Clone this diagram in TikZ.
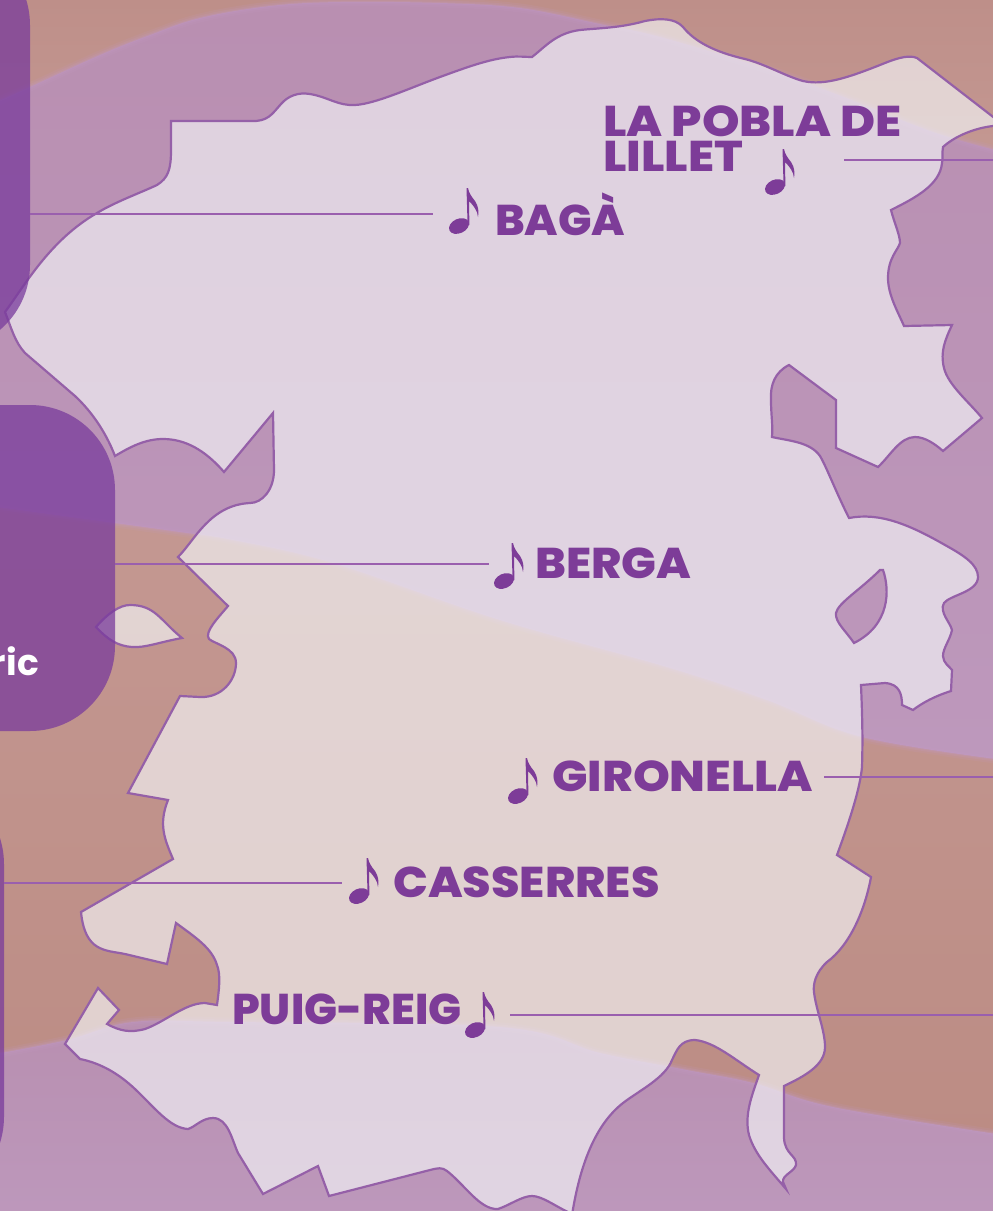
\documentclass[tikz,border=0pt]{standalone}
\usepackage{fontspec}
\newfontfamily\lab{Poppins ExtraBold}
\newfontfamily\pan{Poppins}
\definecolor{tanA}{HTML}{BE8F89}
\definecolor{tanB}{HTML}{C49892}
\definecolor{tanC}{HTML}{BC8C84}
\definecolor{purA}{HTML}{B98FB1}
\definecolor{purB}{HTML}{BA8FB3}
\definecolor{purC}{HTML}{BD98BC}
\definecolor{purD}{HTML}{B88FB0}
\definecolor{glow}{HTML}{C299C2}
\definecolor{panelc}{HTML}{793B9C}
\definecolor{ink}{HTML}{7D3C98}
\definecolor{edgec}{HTML}{9560A8}
\definecolor{leaderc}{HTML}{9A5FAE}
\definecolor{veil}{HTML}{F5F7F9}
\newcommand{\wide}[1]{\addfontfeature{FakeStretch=#1}}
\tikzset{
  lbl/.style={inner sep=0pt,anchor=base west,text=ink,font=\lab\fontsize{43}{35}\selectfont},
  leader/.style={draw=leaderc,line width=1.5pt},
  panelbox/.style={rectangle,rounded corners=85pt,fill=panelc,fill opacity=.75,inner sep=0pt},
  mapedge/.style={draw=edgec,line width=2.2pt,line join=miter},
  notepic/.pic={
    \fill[ink] (-8,38) ellipse [x radius=10.5,y radius=7.2,rotate=25];
    \fill[ink] (-0.5,0) -- (1,0) .. controls (2,5) and (4,8) .. (8,13) .. controls (11.5,18) and (12,24) .. (11,29)
      .. controls (10.5,23) and (7,18) .. (2,13) -- (2.4,37) -- (0.6,37) -- cycle;
  }
}
\def\topedge{plot[smooth,tension=.6] coordinates{(-10,105)(30,87)(100,55)(150,35)(200,18)(270,6)(340,2)(440,3)(520,8)(600,24)(660,37)(760,67)(833,93)(933,132)(1003,152)}}
\def\midedge{-- plot[smooth,tension=.6] coordinates{(1003,760)(862,737)(767,700)(667,667)(500,620)(333,563)(233,540)(180,532)(115,523)(-10,506)}}
\def\lowedge{plot[smooth,tension=.6] coordinates{(-10,1055)(67,1040)(133,1022)(230,1022)(500,1027)(600,1053)(687,1070)(753,1083)(833,1107)(1003,1135)}}
\def\mapoutline{
 (5,312) .. controls (25,285) and (50,240) .. (97,213) .. controls (115,202) and (140,193) .. (157,185)
 .. controls (168,178) and (171,170) .. (171,150) -- (171,121)
 -- (250,121) .. controls (268,122) and (272,114) .. (281,104) .. controls (288,96) and (298,92) .. (310,94)
 .. controls (328,97) and (338,106) .. (355,105) .. controls (375,104) and (410,88) .. (440,77)
 .. controls (470,66) and (490,59) .. (510,57) .. controls (518,56) and (525,57) .. (532,57)
 .. controls (545,47) and (556,33) .. (580,30) .. controls (600,28) and (620,28) .. (645,21)
 .. controls (660,18) and (675,18) .. (683,27) .. controls (695,42) and (715,52) .. (745,59)
 .. controls (765,64) and (785,76) .. (803,81) .. controls (825,86) and (850,77) .. (885,63)
 .. controls (900,57) and (910,55) .. (917,58)
 -- (1010,130) -- (993,126)
 .. controls (975,128) and (955,136) .. (943,147) .. controls (942,152) and (943,158) .. (942,163)
 .. controls (940,185) and (915,198) .. (891,210)
 .. controls (894,222) and (900,235) .. (900,243) .. controls (898,250) and (888,258) .. (888,278)
 .. controls (888,295) and (898,312) .. (904,326)
 -- (952,325)
 .. controls (945,340) and (940,352) .. (944,368) .. controls (948,385) and (970,403) .. (982,418)
 -- (943,451)
 .. controls (935,444) and (925,437) .. (915,437) .. controls (900,437) and (890,456) .. (878,467)
 -- (836,448) -- (836,400) -- (789,365)
 .. controls (775,372) and (770,385) .. (771,400) .. controls (771,415) and (773,425) .. (772,437)
 .. controls (790,441) and (810,442) .. (820,456) .. controls (827,468) and (835,490) .. (849,518)
 .. controls (880,512) and (910,525) .. (945,545) .. controls (965,556) and (978,565) .. (978,577)
 .. controls (978,592) and (950,595) .. (944,603) .. controls (939,612) and (950,622) .. (952,630)
 .. controls (950,640) and (943,648) .. (943,656) .. controls (943,663) and (950,667) .. (952,670)
 -- (951,691)
 .. controls (935,696) and (922,703) .. (913,710) -- (902,705)
 .. controls (902,695) and (900,684) .. (885,683) -- (861,685)
 .. controls (862,710) and (863,735) .. (862,767) .. controls (860,790) and (848,825) .. (837,855)
 -- (871,877)
 .. controls (865,910) and (850,945) .. (827,962) .. controls (815,973) and (813,985) .. (814,992)
 .. controls (816,1010) and (825,1030) .. (825,1047) .. controls (825,1065) and (805,1076) .. (784,1086)
 -- (784,1138) .. controls (785,1155) and (797,1155) .. (796,1165) .. controls (794,1172) and (782,1175) .. (783,1182)
 -- (786,1189)
 .. controls (770,1170) and (755,1155) .. (749,1135) .. controls (744,1115) and (752,1095) .. (759,1075)
 .. controls (735,1060) and (715,1042) .. (695,1040) .. controls (680,1040) and (677,1050) .. (672,1060)
 .. controls (665,1078) and (640,1090) .. (623,1103) .. controls (595,1125) and (580,1165) .. (572,1215)
 -- (568,1212)
 .. controls (555,1206) and (542,1196) .. (532,1196) .. controls (522,1196) and (510,1205) .. (498,1209)
 .. controls (480,1210) and (465,1185) .. (447,1171) .. controls (442,1167) and (438,1168) .. (430,1170)
 -- (329,1196) -- (318,1166) -- (263,1194) -- (238,1153)
 .. controls (232,1140) and (228,1118) .. (213,1118) .. controls (202,1118) and (195,1127) .. (188,1129)
 .. controls (170,1128) and (155,1108) .. (135,1089) .. controls (118,1073) and (100,1063) .. (80,1059)
 -- (65,1044) -- (98,988) -- (119,1010) -- (107,1024)
 .. controls (120,1031) and (130,1033) .. (145,1029) .. controls (165,1022) and (185,1003) .. (205,1003)
 -- (217,1005)
 .. controls (219,990) and (221,975) .. (217,965) .. controls (212,948) and (195,937) .. (176,923)
 -- (167,964) -- (125,954) .. controls (105,950) and (85,952) .. (81,912)
 -- (173,859)
 .. controls (165,840) and (158,825) .. (168,800)
 -- (128,793) -- (180,696) -- (200,697)
 .. controls (222,698) and (236,680) .. (236,663) .. controls (236,648) and (215,644) .. (209,639)
 .. controls (204,632) and (218,618) .. (228,606)
 -- (178,557)
 .. controls (195,540) and (210,505) .. (250,503) .. controls (262,503) and (274,490) .. (274,470)
 -- (273,413) -- (224,472)
 .. controls (205,450) and (185,439) .. (163,439) .. controls (145,439) and (130,447) .. (115,456)
 .. controls (105,430) and (90,410) .. (75,396) -- (25,353)
 .. controls (15,342) and (12,330) .. (5,312)
 -- cycle
 (883,570) .. controls (890,590) and (890,625) .. (854,643)
 .. controls (845,630) and (835,622) .. (836,613) .. controls (838,603) and (860,590) .. (880,570)
 -- cycle
}
\def\eyeoutline{
 (96,627) .. controls (108,613) and (120,605) .. (130,605) .. controls (155,605) and (160,620) .. (182,638)
 .. controls (160,642) and (145,648) .. (132,647) .. controls (118,646) and (108,640) .. (96,627) -- cycle
}
\begin{document}
\begin{tikzpicture}[x=1pt,y=-1pt]
\useasboundingbox (0,0) rectangle (993,1211);
\clip (0,0) rectangle (993,1211);
% background bands
\shade[top color=tanA,bottom color=tanB] (0,0) rectangle (993,160);
\shade[top color=tanB,middle color=tanB,bottom color=tanC] (0,500) rectangle (993,1140);
\path[shade,top color=purA,middle color=purB,bottom color=purC] \topedge \midedge -- cycle;
\path[shade,top color=purD,bottom color=purC] \lowedge -- (1003,1221) -- (-10,1221) -- cycle;
\foreach \w/\o in {9/.14,5/.2,2/.25}{
  \draw[glow,line width=\w pt,opacity=\o] \topedge;
  \draw[glow,line width=\w pt,opacity=\o] (1003,760) \midedge;
  \draw[glow,line width=\w pt,opacity=\o] \lowedge;
}
% territory
\fill[veil,fill opacity=.64,even odd rule] \mapoutline;
\fill[veil,fill opacity=.64] \eyeoutline;
\draw[mapedge] \mapoutline;
\draw[mapedge] \eyeoutline;
% labels
\coordinate (bagaEnd) at (433,214);
\coordinate (bergaEnd) at (489,564);
\coordinate (cassEnd) at (342,883);
\coordinate (pobStart) at (844,160);
\coordinate (pobEnd) at (1000,160);
\coordinate (girStart) at (824,777);
\coordinate (girEnd) at (1000,777);
\coordinate (puigStart) at (510,1015);
\coordinate (puigEnd) at (1000,1015);
\node[panelbox,minimum width=230pt,minimum height=410pt] (pA) at (-85,145) {};
\node[panelbox,minimum width=315pt,minimum height=326pt] (pB) at (-42.5,568) {};
\node[panelbox,minimum width=304pt,minimum height=423pt] (pC) at (-148,990.5) {};
\draw[leader] (pobStart) -- (pobEnd);
\draw[leader] (girStart) -- (girEnd);
\draw[leader] (puigStart) -- (puigEnd);
\draw[leader] (pA.east |- bagaEnd) -- (bagaEnd);
\draw[leader] (pB.east |- bergaEnd) -- (bergaEnd);
\draw[leader] (pC.east |- cassEnd) -- (cassEnd);
\node[inner sep=0pt,anchor=base east,text=white,font=\pan\bfseries\fontsize{36}{36}\selectfont] (ric) at (39,675) {ric};
\node[lbl] (baga) at (495,235) {\wide{1.03}BAGÀ};
\node[lbl,align=left] (pobla) at (603,171) {\wide{1.11}LA POBLA DE\\\wide{1.11}LILLET};
\node[lbl] (berga) at (535,578) {\wide{1.07}BERGA};
\node[lbl] (giro) at (552,791) {\wide{1.09}GIRONELLA};
\node[lbl] (cass) at (393,897) {\wide{1.07}CASSERRES};
\node[lbl] (puig) at (232,1024) {\wide{1.015}PUIG-REIG};
\pic at (467,188) {notepic};
\pic at (783,149) {notepic};
\pic at (512,543) {notepic};
\pic at (526,758) {notepic};
\pic at (367,858) {notepic};
\pic at (483,992) {notepic};
\end{tikzpicture}
\end{document}
